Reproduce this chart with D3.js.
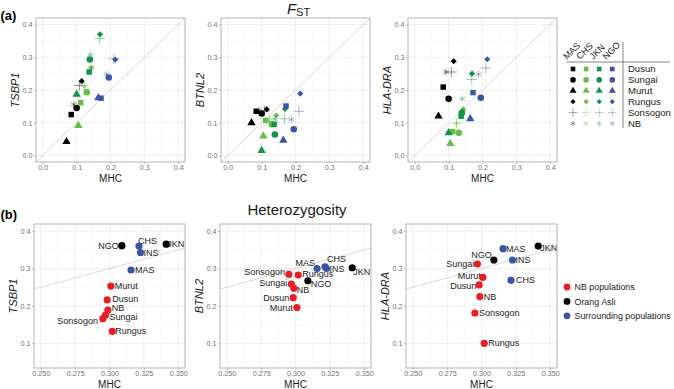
<!DOCTYPE html>
<html>
<head>
<meta charset="utf-8">
<script src="https://cdn.jsdelivr.net/npm/d3@7"></script>
<style>
  body { margin: 0; background: #fff; }
  svg { display: block; font-family: "Liberation Sans", Arial, sans-serif; }
</style>
</head>
<body>
<div id="chart"></div>
<script>
// ---- data ----
const populations = ["Dusun", "Sungai", "Murut", "Rungus", "Sonsogon", "NB"];
const refPops = ["MAS", "CHS", "JKN", "NGO"];
const genes = ["TSBP1", "BTNL2", "HLA-DRA"];

// Fst at MHC, rows = refPops, columns = populations
const fstMHC = [
  [0.084, 0.100, 0.070, 0.115, 0.108, 0.092],
  [0.112, 0.130, 0.105, 0.143, 0.123, 0.123],
  [0.137, 0.139, 0.100, 0.169, 0.168, 0.140],
  [0.172, 0.195, 0.164, 0.214, 0.210, 0.188]
];
const fstTSBP1 = [
  [0.125, 0.145, 0.042, 0.227, 0.214, 0.156],
  [0.161, 0.193, 0.091, 0.268, 0.212, 0.209],
  [0.255, 0.293, 0.187, 0.370, 0.357, 0.308],
  [0.175, 0.238, 0.176, 0.293, 0.295, 0.248]
];
const fstBTNL2 = [
  [0.135, 0.128, 0.100, 0.141, 0.136, 0.138],
  [0.107, 0.095, 0.059, 0.122, 0.112, 0.106],
  [0.095, 0.064, 0.015, 0.142, 0.112, 0.110],
  [0.151, 0.080, 0.046, 0.189, 0.135, 0.110]
];
const fstHLADRA = [
  [0.209, 0.173, 0.120, 0.288, 0.255, 0.255],
  [0.073, 0.069, 0.036, 0.141, 0.100, 0.097],
  [0.120, 0.130, 0.069, 0.250, 0.232, 0.173],
  [0.192, 0.176, 0.112, 0.294, 0.267, 0.248]
];

// heterozygosity
const hetPops   = ["NGO", "JKN", "CHS", "INS", "MAS", "Dusun", "Sungai", "Murut", "Rungus", "Sonsogon", "NB"];
const hetGroup  = ["Orang Asli", "Orang Asli", "Surrounding populations", "Surrounding populations", "Surrounding populations",
                   "NB populations", "NB populations", "NB populations", "NB populations", "NB populations", "NB populations"];
const hetMHC    = [0.309, 0.3413, 0.3215, 0.3226, 0.3157, 0.2983, 0.297, 0.301, 0.302, 0.2952, 0.2988];
const hetTSBP1  = [0.361, 0.365, 0.360, 0.3425, 0.296, 0.216, 0.175, 0.253, 0.132, 0.166, 0.189];
const hetBTNL2  = [0.267, 0.302, 0.3045, 0.300, 0.300, 0.222, 0.2586, 0.1955, 0.2826, 0.2845, 0.247];
const hetHLADRA = [0.3227, 0.360, 0.2685, 0.3227, 0.353, 0.256, 0.312, 0.2765, 0.100, 0.181, 0.225];
const groupNames = ["NB populations", "Orang Asli", "Surrounding populations"];

const fstTicks = [0, 0.1, 0.2, 0.3, 0.4];
const hetXTicks = [0.25, 0.275, 0.3, 0.325, 0.35];
const hetYTicks = [0.1, 0.2, 0.3, 0.4];

// ---- styles / layout ----
const refColors = ["#000000", "#66bd47", "#12934a", "#3b56a6"];
const groupColors = ["#ec1c24", "#000000", "#3a54a5"];
const symTypes = [d3.symbolSquare, d3.symbolCircle, d3.symbolTriangle, d3.symbolDiamond2, d3.symbolPlus, d3.symbolAsterisk];
const symSizes = [30, 34, 30, 24, 38, 32];
const strokeSym = [false, false, false, false, true, true];

// label placement for the heterozygosity points: [dx, dy, anchor]
const labelPlace = [
  { NGO: [-3, 0, "end"], CHS: [-1, -5, "start"], INS: [3, 0, "start"], JKN: [1, 0, "start"], MAS: [4, 0, "start"],
    Murut: [4, 0, "start"], Dusun: [5, -1, "start"], NB: [4, -2, "start"], Sungai: [4, 2, "start"],
    Sonsogon: [-5, 2, "end"], Rungus: [3, 0, "start"] },
  { MAS: [-2, -6, "end"], CHS: [2, -8, "start"], INS: [3, 0, "start"], JKN: [1, 4, "start"], NGO: [3, 3, "start"],
    Sonsogon: [-4, -2, "end"], Rungus: [4, -1, "start"], Sungai: [-4, -1, "end"], NB: [3, 2, "start"],
    Dusun: [-4, 0, "end"], Murut: [-4, 0, "end"] },
  { MAS: [3, 0, "start"], JKN: [2, 2, "start"], NGO: [-2, -5, "end"], INS: [3, 0, "start"], Sungai: [-3, 0, "end"],
    Murut: [-2, -1, "end"], Dusun: [-3, 1, "end"], CHS: [5, 0, "start"], NB: [4, 0, "start"],
    Sonsogon: [4, 0, "start"], Rungus: [4, 0, "start"] }
];

const W = 674, H = 389;
const topX0 = [36, 221, 408], topW = 149, topY0 = 18, topY1 = 162;
const botX0 = [34, 220, 406], botW = 151, botY0 = 224, botY1 = 368;

const svg = d3.select("#chart").append("svg")
  .attr("width", W).attr("height", H);

function drawFrame(g, x, y, xTicks, yTicks, xMinor, yMinor, xFmt, geneName) {
  const [xa, xb] = x.range(), [ya, yb] = y.range();
  // minor grid
  g.selectAll(".mx").data(xMinor).enter().append("line")
    .attr("x1", d => x(d)).attr("x2", d => x(d)).attr("y1", yb).attr("y2", ya)
    .attr("stroke", "#f3f3f3").attr("stroke-width", 0.5);
  g.selectAll(".my").data(yMinor).enter().append("line")
    .attr("y1", d => y(d)).attr("y2", d => y(d)).attr("x1", xa).attr("x2", xb)
    .attr("stroke", "#f3f3f3").attr("stroke-width", 0.5);
  // major grid
  g.selectAll(".gx").data(xTicks).enter().append("line")
    .attr("x1", d => x(d)).attr("x2", d => x(d)).attr("y1", yb).attr("y2", ya)
    .attr("stroke", "#e8e8e8").attr("stroke-width", 0.7);
  g.selectAll(".gy").data(yTicks).enter().append("line")
    .attr("y1", d => y(d)).attr("y2", d => y(d)).attr("x1", xa).attr("x2", xb)
    .attr("stroke", "#e8e8e8").attr("stroke-width", 0.7);

  // axes
  const xAxis = d3.axisBottom(x).tickValues(xTicks).tickFormat(xFmt).tickSize(2).tickPadding(0.5);
  const yAxis = d3.axisLeft(y).tickValues(yTicks).tickFormat(d3.format(".1f")).tickSize(2).tickPadding(1.5);
  const gx = g.append("g").attr("transform", "translate(0," + ya + ")").call(xAxis);
  const gy = g.append("g").attr("transform", "translate(" + xa + ",0)").call(yAxis);
  [gx, gy].forEach(a => {
    a.select(".domain").remove();
    a.selectAll(".tick line").attr("stroke", "#b3b3b3");
    a.selectAll(".tick text").attr("fill", "#707070").style("font-size", "7.2px")
      .style("font-family", "Liberation Sans, Arial, sans-serif");
  });

  g.append("text")
    .attr("x", (xa + xb) / 2).attr("y", ya + 19.5)
    .attr("text-anchor", "middle").style("font-size", "10px").attr("fill", "#1a1a1a")
    .text("MHC");
  g.append("text")
    .attr("transform", "translate(" + (xa - 17) + "," + ((ya + yb) / 2) + ") rotate(-90)")
    .attr("text-anchor", "middle").style("font-size", "11px").style("font-style", "italic")
    .attr("fill", "#1a1a1a")
    .text(geneName);
}

function drawBorder(g, x, y) {
  const [xa, xb] = x.range(), [ya, yb] = y.range();
  g.append("rect").attr("x", xa).attr("y", yb).attr("width", xb - xa).attr("height", ya - yb)
    .attr("fill", "none").attr("stroke", "#b3b3b3").attr("stroke-width", 1);
}

// ---- (a) Fst panels ----
const fstGene = [fstTSBP1, fstBTNL2, fstHLADRA];
genes.forEach((gene, k) => {
  const x = d3.scaleLinear().domain([-0.02, 0.42]).range([topX0[k], topX0[k] + topW]);
  const y = d3.scaleLinear().domain([-0.02, 0.42]).range([topY1, topY0]);
  const g = svg.append("g");
  drawFrame(g, x, y, fstTicks, fstTicks, [0.05, 0.15, 0.25, 0.35], [0.05, 0.15, 0.25, 0.35],
    d3.format(".1f"), gene);

  g.append("line")
    .attr("x1", x(-0.02)).attr("y1", y(-0.02)).attr("x2", x(0.42)).attr("y2", y(0.42))
    .attr("stroke", "#cfcfcf").attr("stroke-width", 0.8);

  const pts = [];
  refPops.forEach((r, j) => populations.forEach((p, i) => {
    pts.push({ ref: j, pop: i, mhc: fstMHC[j][i], val: fstGene[k][j][i] });
  }));
  // draw line symbols last so they sit on top
  pts.sort((a, b) => (strokeSym[a.pop] ? 1 : 0) - (strokeSym[b.pop] ? 1 : 0));
  g.selectAll(".pt").data(pts).enter().append("path")
    .attr("transform", d => "translate(" + x(d.mhc) + "," + y(d.val) + ")")
    .attr("d", d => d3.symbol().type(symTypes[d.pop]).size(symSizes[d.pop])())
    .attr("fill", d => strokeSym[d.pop] ? "none" : refColors[d.ref])
    .attr("stroke", d => strokeSym[d.pop] ? refColors[d.ref] : "none")
    .attr("stroke-opacity", 0.55)
    .attr("stroke-width", 0.8);

  drawBorder(g, x, y);
});

// F_ST title
const ft = svg.append("text").attr("x", 298.5).attr("y", 13.5).attr("text-anchor", "middle")
  .style("font-size", "15px").attr("fill", "#1a1a1a");
ft.append("tspan").style("font-style", "italic").text("F");
ft.append("tspan").attr("dy", 2.5).style("font-size", "11px").text("ST");

svg.append("text").attr("x", 0.5).attr("y", 19.5).style("font-size", "13px")
  .style("font-weight", "bold").text("(a)");

// Fst legend
const legCol = d => 573 + d * 13.1;
const legRow = d => 69 + d * 10.9;
const leg = svg.append("g");
refPops.forEach((r, j) => {
  leg.append("text")
    .attr("transform", "translate(" + (legCol(j) - 6) + ",60) rotate(-45)")
    .style("font-size", "9px").attr("fill", "#1a1a1a").text(r);
  populations.forEach((p, i) => {
    leg.append("path")
      .attr("transform", "translate(" + legCol(j) + "," + legRow(i) + ")")
      .attr("d", d3.symbol().type(symTypes[i]).size(symSizes[i] * 0.72)())
      .attr("fill", strokeSym[i] ? "none" : refColors[j])
      .attr("stroke", strokeSym[i] ? refColors[j] : "none")
      .attr("stroke-opacity", 0.5).attr("stroke-width", 0.7);
  });
});
populations.forEach((p, i) => {
  leg.append("text").attr("x", 628).attr("y", legRow(i)).attr("dy", "0.35em")
    .style("font-size", "9.5px").attr("fill", "#1a1a1a").text(p);
});
leg.append("line").attr("x1", 567).attr("x2", 670).attr("y1", 62).attr("y2", 62)
  .attr("stroke", "#666").attr("stroke-width", 0.8);
leg.append("line").attr("x1", 623).attr("x2", 623).attr("y1", 42).attr("y2", 128)
  .attr("stroke", "#666").attr("stroke-width", 0.8);

// ---- (b) heterozygosity panels ----
const hetGene = [hetTSBP1, hetBTNL2, hetHLADRA];
const groupColor = d3.scaleOrdinal().domain(groupNames).range(groupColors);
genes.forEach((gene, k) => {
  const x = d3.scaleLinear().domain([0.245, 0.355]).range([botX0[k], botX0[k] + botW]);
  const y = d3.scaleLinear().domain([0.034, 0.419]).range([botY1, botY0]);
  const g = svg.append("g");
  drawFrame(g, x, y, hetXTicks, hetYTicks, [0.2625, 0.2875, 0.3125, 0.3375], [0.05, 0.15, 0.25, 0.35],
    d3.format(".3f"), gene);

  g.append("line")
    .attr("x1", x(0.245)).attr("y1", y(0.245)).attr("x2", x(0.355)).attr("y2", y(0.355))
    .attr("stroke", "#cfcfcf").attr("stroke-width", 0.8);

  const pts = hetPops.map((p, i) => ({ name: p, group: hetGroup[i], mhc: hetMHC[i], val: hetGene[k][i] }));
  g.selectAll(".lab").data(pts).enter().append("text")
    .attr("x", d => x(d.mhc) + labelPlace[k][d.name][0])
    .attr("y", d => y(d.val) + labelPlace[k][d.name][1])
    .attr("dy", "0.35em")
    .attr("text-anchor", d => labelPlace[k][d.name][2])
    .style("font-size", "9px").attr("fill", "#1a1a1a")
    .text(d => d.name);
  g.selectAll(".dot").data(pts).enter().append("circle")
    .attr("cx", d => x(d.mhc)).attr("cy", d => y(d.val)).attr("r", 3.6)
    .attr("fill", d => groupColor(d.group));

  drawBorder(g, x, y);
});

svg.append("text").attr("x", 297).attr("y", 214.5).attr("text-anchor", "middle")
  .style("font-size", "15px").attr("fill", "#1a1a1a").text("Heterozygosity");
svg.append("text").attr("x", 0.5).attr("y", 218.5).style("font-size", "13px")
  .style("font-weight", "bold").text("(b)");

// heterozygosity legend
const leg2 = svg.append("g");
groupNames.forEach((gname, i) => {
  leg2.append("circle").attr("cx", 567).attr("cy", 287 + i * 14.4).attr("r", 3.4)
    .attr("fill", groupColor(gname));
  leg2.append("text").attr("x", 574.5).attr("y", 287 + i * 14.4).attr("dy", "0.35em")
    .style("font-size", "8.9px").attr("fill", "#1a1a1a").text(gname);
});
</script>
</body>
</html>
